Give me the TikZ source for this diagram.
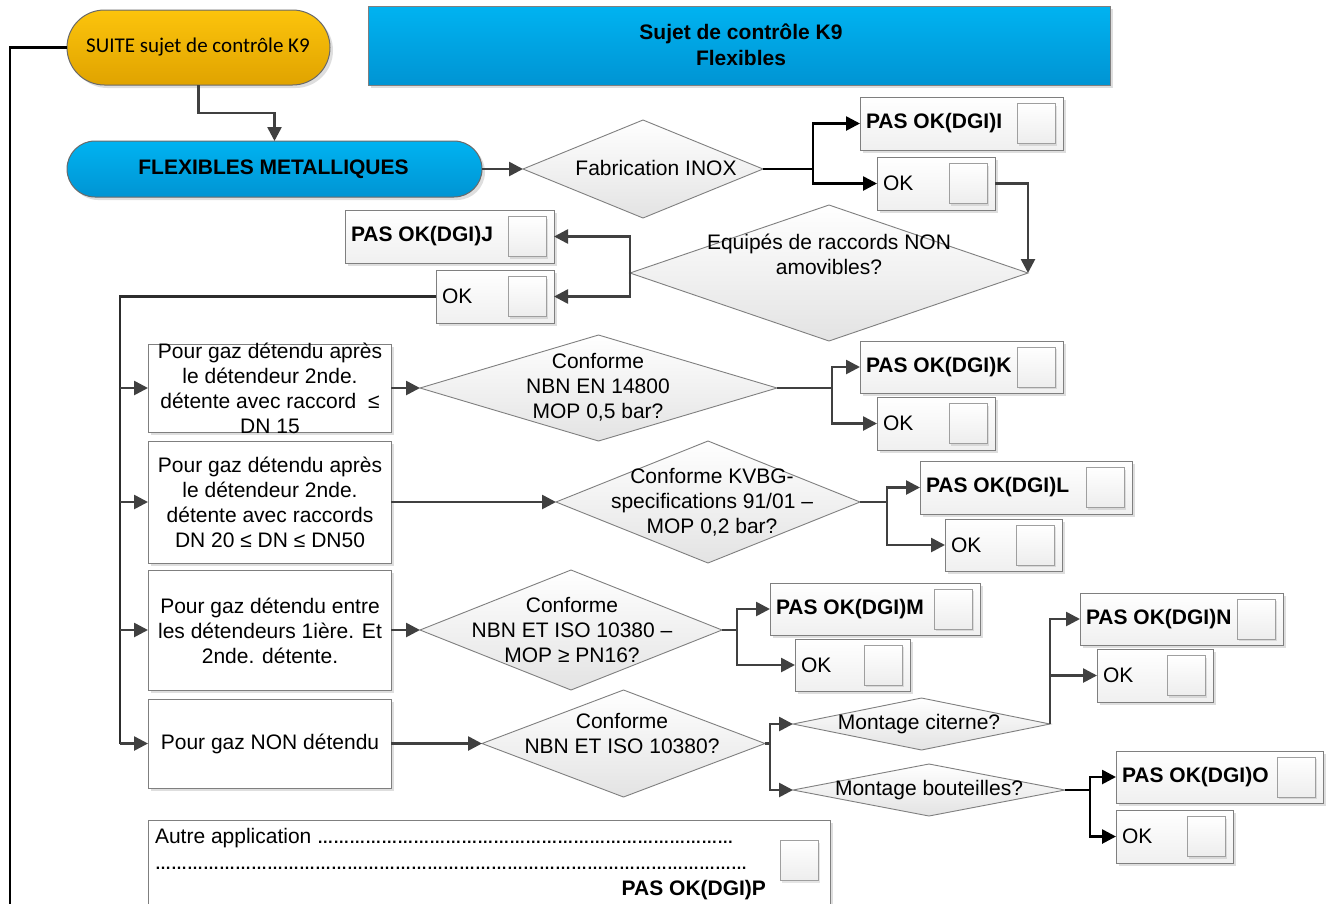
\documentclass[tikz,border=0pt]{standalone}
\usepackage{fontspec}
\setmainfont{Liberation Sans}
\newfontfamily\calibrifont{Carlito}
\usetikzlibrary{shapes.geometric,arrows.meta,shadows,shadings}

\definecolor{linegray}{HTML}{404040}
\definecolor{edgegray}{HTML}{7F7F7F}
\definecolor{pillgray}{HTML}{6A6A6A}
\definecolor{orangetop}{HTML}{FCC40C}
\definecolor{orangebot}{HTML}{E0A300}
\definecolor{bluetop}{HTML}{00B3F1}
\definecolor{bluebot}{HTML}{0094D3}

% verdict box: name, left, top, right, bottom, label
\newcommand\verdict[6]{%
  \node[resbox, minimum width={(#4)-(#2)}, minimum height={(#5)-(#3)}] (#1) at ({((#2)+(#4))/2},{((#3)+(#5))/2}) {};
  \node[txt, anchor=west] (#1t) at ([xshift=6pt]#1.west) {#6};
  \node[chk] (#1c) at ([xshift=-27pt]#1.east) {};
}
% plain case box: name, left, top, right, bottom
\newcommand\casebox[5]{%
  \node[panel, minimum width={(#4)-(#2)}, minimum height={(#5)-(#3)}] (#1) at ({((#2)+(#4))/2},{((#3)+(#5))/2}) {};
}
% dotted fill-in line
\newcommand\filldots[1]{{\fontsize{16}{25}\selectfont\bfseries #1}}

\begin{document}
\begin{tikzpicture}[x=1pt,y=-1pt,
  every node/.style={inner sep=0pt,outer sep=0pt},
  txt/.style={font=\fontsize{21}{25}\selectfont,align=center,text=black},
  conn/.style={draw=linegray,line width=2.6pt,-{Triangle[length=14pt,width=14pt]}},
  blkarrow/.style={draw=black,line width=2.6pt,-{Triangle[length=14pt,width=14pt]}},
  busline/.style={draw=linegray!70!black,line width=2.6pt},
  edgeline/.style={draw=black,line width=2.4pt},
  softshadow/.style={drop shadow={shadow xshift=3pt,shadow yshift=-3pt,fill=black,opacity=.13}},
  pill/.style={rectangle,draw=pillgray,line width=1pt,softshadow},
  dia/.style={diamond,draw=edgegray,line width=.9pt,top color=white,bottom color=gray!22},
  panel/.style={rectangle,draw=edgegray,line width=1pt,fill=white,softshadow},
  resbox/.style={rectangle,draw=edgegray,line width=1pt,top color=white,bottom color=gray!12,softshadow},
  chk/.style={rectangle,draw=gray!75,line width=1pt,top color=white,bottom color=gray!14,
    minimum width=38pt,minimum height=40pt,
    drop shadow={shadow xshift=2pt,shadow yshift=-2pt,fill=black,opacity=.1}},
]
\useasboundingbox (0,0) rectangle (1335,903);
\clip (0,0) rectangle (1335,903);
\fill[white] (0,0) rectangle (1335,903);

% --- header and start terminals
\node[pill, top color=bluetop, bottom color=bluebot, draw=edgegray, minimum width=742pt, minimum height=79pt] (head) at (739,45.5) {};
\node[txt, font=\fontsize{21}{26}\selectfont\bfseries] (headt) at (741,45) {Sujet de contrôle K9\\Flexibles};

\node[pill, top color=orangetop, bottom color=orangebot, rounded corners=37.5pt, minimum width=263pt, minimum height=75pt] (suite) at (198.5,47.5) {};
\node[font=\calibrifont\fontsize{21}{25}\selectfont] (suitet) at (198,47) {SUITE sujet de contrôle K9};

\node[pill, top color=bluetop, bottom color=bluebot, rounded corners=28pt, minimum width=415pt, minimum height=56pt] (flex) at (274.5,169) {};
\node[txt, font=\fontsize{21}{25}\selectfont\bfseries] (flext) at (273.5,169) {FLEXIBLES METALLIQUES};

% --- decisions
\node[dia, minimum width=240pt, minimum height=98pt] (dI) at (643,169) {};
\node[txt] (dIt) at (656,168) {Fabrication INOX};

\node[dia, minimum width=398pt, minimum height=136pt] (dJ) at (829,273) {};
\node[txt] (dJt) at (829,254) {Equipés de raccords NON\\amovibles?};

\node[dia, minimum width=357pt, minimum height=106pt] (dK) at (598.5,388) {};
\node[txt] (dKt) at (598,387) {Conforme\\NBN EN 14800\\MOP 0,5 bar?};

\node[dia, minimum width=304pt, minimum height=122pt] (dL) at (708,502) {};
\node[txt] (dLt) at (712,502) {Conforme KVBG-\\specifications 91/01 –\\MOP 0,2 bar?};

\node[dia, minimum width=302pt, minimum height=120pt] (dM) at (571,630) {};
\node[txt] (dMt) at (572,630) {Conforme\\NBN ET ISO 10380 –\\MOP ≥ PN16?};

\node[dia, minimum width=283pt, minimum height=107pt] (dN) at (623.5,743.5) {};
\node[txt] (dNt) at (622,733) {Conforme\\NBN ET ISO 10380?};

\node[dia, minimum width=257pt, minimum height=52pt] (dC) at (921.5,724) {};
\node[txt] (dCt) at (919,724) {Montage citerne?};

\node[dia, minimum width=272pt, minimum height=52pt] (dB) at (929,790) {};
\node[txt] (dBt) at (929,790) {Montage bouteilles?};

% --- case boxes
\casebox{boxA}{148}{344}{391}{432}
\node[txt] (boxAt) at (270,388) {Pour gaz détendu après\\le détendeur 2nde.\\détente avec raccord~ ≤\\DN 15};
\casebox{boxB}{148}{441}{391}{563}
\node[txt] (boxBt) at (270,502) {Pour gaz détendu après\\le détendeur 2nde.\\détente avec raccords\\DN 20 ≤ DN ≤ DN50};
\casebox{boxC}{148}{570}{391}{690}
\node[txt] (boxCt) at (270,631) {Pour gaz détendu entre\\les détendeurs 1ière. Et\\2nde. détente.};
\casebox{boxD}{148}{699}{391}{788}
\node[txt] (boxDt) at (270,743.5) {Pour gaz NON détendu};

\casebox{boxP}{148}{820}{830}{935}
\node[txt, anchor=base west] (boxPa) at (155,843) {Autre application \filldots{……………………………………………………………………}};
\node[txt, anchor=base west] (boxPb) at (155,869) {\filldots{…………………………………………………………………………………………………}};
\node[txt, font=\fontsize{21}{25}\selectfont\bfseries, anchor=base east] (boxPc) at (766,895) {PAS OK(DGI)P};
\node[chk] (boxPk) at (799,860.5) {};

% --- verdicts
\verdict{pI}{860}{97}{1063}{150}{\textbf{PAS OK(DGI)I}}
\verdict{okI}{877}{157}{995}{210}{OK}
\verdict{pJ}{345}{210}{554}{263}{\textbf{PAS OK(DGI)J}}
\verdict{okJ}{436}{270}{554}{323}{OK}
\verdict{pK}{860}{341}{1063}{393}{\textbf{PAS OK(DGI)K}}
\verdict{okK}{877}{397}{995}{450}{OK}
\verdict{pL}{920}{461}{1132}{514}{\textbf{PAS OK(DGI)L}}
\verdict{okL}{945}{519}{1062}{571}{OK}
\verdict{pM}{770}{583}{980}{635}{\textbf{PAS OK(DGI)M}}
\verdict{okM}{795}{639}{910}{691}{OK}
\verdict{pN}{1080}{593}{1283}{645}{\textbf{PAS OK(DGI)N}}
\verdict{okN}{1097}{649}{1213}{702}{OK}
\verdict{pO}{1116}{751}{1323}{803}{\textbf{PAS OK(DGI)O}}
\verdict{okO}{1116}{810}{1233}{863}{OK}

% --- connectors
\coordinate (edge) at (10,940);
\draw[edgeline] (suite.west) -| (edge);
\draw[conn] (suite.south) -- ++(0,28) -| (flex.north);
\draw[conn] (flex.east) -- (dI.west);

\coordinate (jI) at (813,169);
\draw[blkarrow] (dI.east) -- (jI) |- (pI.west);
\draw[blkarrow] (jI) |- (okI.west);
\draw[conn] (okI.east) -| (dJ.east);

\draw[conn] (dJ.west) |- (pJ.east);
\draw[conn] (dJ.west) |- (okJ.east);

\coordinate (bus) at (120,296.5);
\draw[busline] (okJ.west) -- (bus) -- (bus |- boxD.west);
\foreach \b in {boxA,boxB,boxC,boxD} \draw[conn] (bus |- \b.west) -- (\b.west);

\draw[conn] (boxA.east) -- (dK.west);
\coordinate (jK) at (832,388);
\draw[conn] (dK.east) -- (jK) |- (pK.west);
\draw[conn] (jK) |- (okK.west);

\draw[conn] (boxB.east) -- (dL.west);
\coordinate (jL) at (887,502);
\draw[conn] (dL.east) -- (jL) |- (pL.west);
\draw[conn] (jL) |- (okL.west);

\draw[conn] (boxC.east) -- (dM.west);
\coordinate (jM) at (737,630);
\draw[conn] (dM.east) -- (jM) |- (pM.west);
\draw[conn] (jM) |- (okM.west);

\draw[conn] (boxD.east) -- (dN.west);
\coordinate (jN) at (770,743.5);
\draw[conn] (dN.east) -- (jN) |- (dC.west);
\draw[conn] (jN) |- (dB.west);

\draw[conn] (dC.east) |- (pN.west);
\draw[conn] (dC.east) |- (okN.west);

\coordinate (jO) at (1090,790);
\draw[blkarrow] (dB.east) -- (jO) |- (pO.west);
\draw[blkarrow] (jO) |- (okO.west);
\end{tikzpicture}
\end{document}
